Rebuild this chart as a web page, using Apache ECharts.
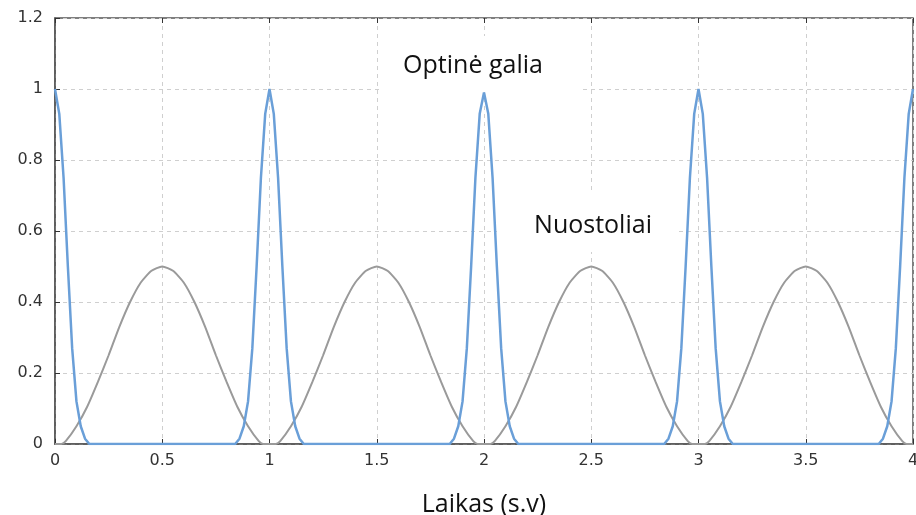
<!DOCTYPE html>
<html>
<head>
<meta charset="utf-8">
<script src="https://cdn.jsdelivr.net/npm/echarts@6/dist/echarts.min.js"></script>
<style>
  html, body { margin: 0; padding: 0; background: #fff; }
  #chart { width: 916px; height: 515px; }
</style>
</head>
<body>
<div id="chart"></div>
<script>
// optinė galia (mėlyna) – impulsai ties sveikaisiais laiko taškais
const galiaData = [
  [0, 1], [0.02, 0.93], [0.04, 0.75], [0.06, 0.5], [0.08, 0.27], [0.10, 0.12], [0.12, 0.05], [0.14, 0.015], [0.16, 0],
  [0.84, 0], [0.86, 0.015], [0.88, 0.05], [0.90, 0.12], [0.92, 0.27], [0.94, 0.5], [0.96, 0.75], [0.98, 0.93],
  [1, 1], [1.02, 0.93], [1.04, 0.75], [1.06, 0.5], [1.08, 0.27], [1.10, 0.12], [1.12, 0.05], [1.14, 0.015], [1.16, 0],
  [1.84, 0], [1.86, 0.015], [1.88, 0.05], [1.90, 0.12], [1.92, 0.27], [1.94, 0.5], [1.96, 0.75], [1.98, 0.93],
  [2, 0.99], [2.02, 0.93], [2.04, 0.75], [2.06, 0.5], [2.08, 0.27], [2.10, 0.12], [2.12, 0.05], [2.14, 0.015], [2.16, 0],
  [2.84, 0], [2.86, 0.015], [2.88, 0.05], [2.90, 0.12], [2.92, 0.27], [2.94, 0.5], [2.96, 0.75], [2.98, 0.93],
  [3, 1], [3.02, 0.93], [3.04, 0.75], [3.06, 0.5], [3.08, 0.27], [3.10, 0.12], [3.12, 0.05], [3.14, 0.015], [3.16, 0],
  [3.84, 0], [3.86, 0.015], [3.88, 0.05], [3.90, 0.12], [3.92, 0.27], [3.94, 0.5], [3.96, 0.75], [3.98, 0.93], [4, 1]
];

// nuostoliai (pilka) – kupros tarp impulsų
const nuostoliaiData = [
  [0, 0],
  [0.03, 0], [0.05, 0.008], [0.1, 0.05], [0.15, 0.105], [0.2, 0.175], [0.25, 0.25], [0.3, 0.33], [0.35, 0.4], [0.4, 0.455], [0.45, 0.488],
  [0.5, 0.5], [0.55, 0.488], [0.6, 0.455], [0.65, 0.4], [0.7, 0.33], [0.75, 0.25], [0.8, 0.175], [0.85, 0.105], [0.9, 0.05], [0.95, 0.008], [0.97, 0],
  [1.03, 0], [1.05, 0.008], [1.1, 0.05], [1.15, 0.105], [1.2, 0.175], [1.25, 0.25], [1.3, 0.33], [1.35, 0.4], [1.4, 0.455], [1.45, 0.488],
  [1.5, 0.5], [1.55, 0.488], [1.6, 0.455], [1.65, 0.4], [1.7, 0.33], [1.75, 0.25], [1.8, 0.175], [1.85, 0.105], [1.9, 0.05], [1.95, 0.008], [1.97, 0],
  [2.03, 0], [2.05, 0.008], [2.1, 0.05], [2.15, 0.105], [2.2, 0.175], [2.25, 0.25], [2.3, 0.33], [2.35, 0.4], [2.4, 0.455], [2.45, 0.488],
  [2.5, 0.5], [2.55, 0.488], [2.6, 0.455], [2.65, 0.4], [2.7, 0.33], [2.75, 0.25], [2.8, 0.175], [2.85, 0.105], [2.9, 0.05], [2.95, 0.008], [2.97, 0],
  [3.03, 0], [3.05, 0.008], [3.1, 0.05], [3.15, 0.105], [3.2, 0.175], [3.25, 0.25], [3.3, 0.33], [3.35, 0.4], [3.4, 0.455], [3.45, 0.488],
  [3.5, 0.5], [3.55, 0.488], [3.6, 0.455], [3.65, 0.4], [3.7, 0.33], [3.75, 0.25], [3.8, 0.175], [3.85, 0.105], [3.9, 0.05], [3.95, 0.008], [3.97, 0],
  [4, 0]
];

const xMin = 0, xMax = 4, xStep = 0.5;
const yMin = 0, yMax = 1.2, yStep = 0.2;

const chart = echarts.init(document.getElementById('chart'));

const tickLabel = { fontFamily: 'DejaVu Sans', fontSize: 16, color: '#333' };
const dashed = { show: true, lineStyle: { color: '#cfcfcf', type: [4, 4], width: 1 } };
const labelFont = '25px "Open Sans"';

const option = {
  animation: false,
  grid: {
    left: 55, right: 3, top: 18, bottom: 71,
    containLabel: false, outerBoundsMode: 'none',
    show: true, borderColor: '#555', borderWidth: 1.5
  },
  xAxis: [{
    type: 'value', min: xMin, max: xMax, interval: xStep,
    name: 'Laikas (s.v)', nameLocation: 'middle', nameGap: 48,
    nameTextStyle: { fontFamily: 'Open Sans', fontSize: 25, color: '#111' },
    axisLine: { show: true, lineStyle: { color: '#555', width: 1.5 } },
    axisTick: { show: true, inside: true, length: 5, lineStyle: { color: '#333' } },
    axisLabel: Object.assign({ margin: 9 }, tickLabel),
    splitLine: dashed
  }, {
    // viršutinės žymės (atspindėtos)
    type: 'value', position: 'top', min: xMin, max: xMax, interval: xStep,
    axisLine: { show: false },
    axisTick: { show: true, inside: true, length: 5, lineStyle: { color: '#333' } },
    axisLabel: { show: false },
    splitLine: { show: false }
  }],
  yAxis: {
    type: 'value', min: yMin, max: yMax, interval: yStep,
    axisLine: { show: true, lineStyle: { color: '#555', width: 1.5 } },
    axisTick: { show: true, inside: true, length: 5, lineStyle: { color: '#333' } },
    axisLabel: Object.assign({ margin: 12 }, tickLabel),
    splitLine: dashed
  },
  graphic: [
    // baltas fonas po užrašais (uždengia tinklelį)
    { type: 'rect', z: 1, shape: { x: 380, y: 36, width: 203, height: 56 }, style: { fill: '#fff' } },
    { type: 'rect', z: 1, shape: { x: 497, y: 194, width: 180, height: 58 }, style: { fill: '#fff' } },
    { type: 'text', z: 10, x: 473, y: 66, style: { text: 'Optinė galia', font: labelFont, fill: '#111', align: 'center', verticalAlign: 'middle' } },
    { type: 'text', z: 10, x: 593, y: 226, style: { text: 'Nuostoliai', font: labelFont, fill: '#111', align: 'center', verticalAlign: 'middle' } }
  ],
  series: [{
    name: 'Nuostoliai', type: 'line', data: nuostoliaiData,
    showSymbol: false, smooth: 0.2, z: 3,
    lineStyle: { color: '#9a9a9a', width: 2 }
  }, {
    name: 'Optinė galia', type: 'line', data: galiaData,
    showSymbol: false, z: 4,
    lineStyle: { color: '#6a9fd8', width: 2.5 }
  }]
};

chart.setOption(option);
</script>
</body>
</html>
